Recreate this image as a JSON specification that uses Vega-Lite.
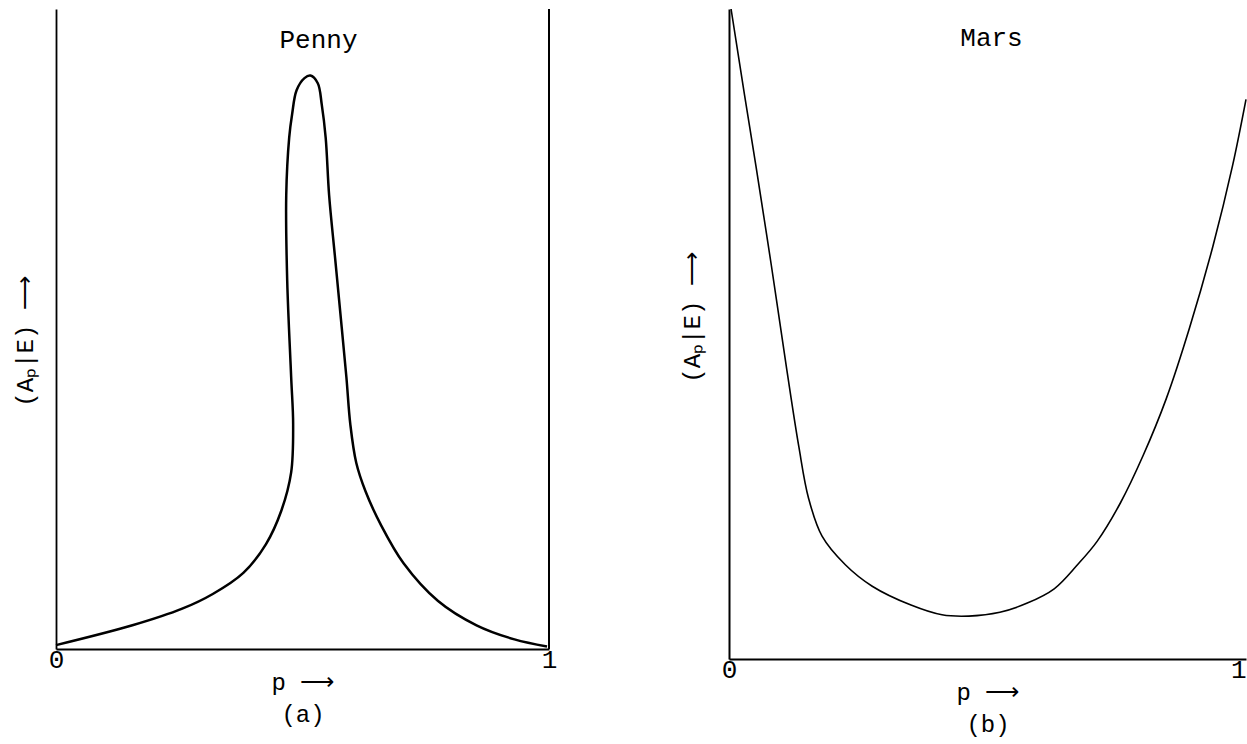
{
  "$schema": "https://vega.github.io/schema/vega-lite/v6.json",
  "background": "white",
  "padding": {"left": 13, "top": 5, "right": 0, "bottom": 6},
  "spacing": 123,
  "config": {
    "view": {"stroke": null},
    "font": "Liberation Mono",
    "axis": {"grid": false, "ticks": false, "domainColor": "black", "labelColor": "black", "titleColor": "black", "labelFont": "Liberation Mono", "titleFont": "Liberation Mono", "labelFontSize": 26, "titleFontSize": 24, "titleFontWeight": "normal"},
    "title": {"font": "Liberation Mono", "fontSize": 26, "fontWeight": "normal", "color": "black"}
  },
  "datasets": {
    "penny": [
      {"i": 0, "p": 0.0, "v": 0.006},
      {"i": 1, "p": 0.155, "v": 0.037},
      {"i": 2, "p": 0.256, "v": 0.063},
      {"i": 3, "p": 0.318, "v": 0.086},
      {"i": 4, "p": 0.38, "v": 0.119},
      {"i": 5, "p": 0.426, "v": 0.164},
      {"i": 6, "p": 0.457, "v": 0.216},
      {"i": 7, "p": 0.477, "v": 0.276},
      {"i": 8, "p": 0.481, "v": 0.351},
      {"i": 9, "p": 0.477, "v": 0.425},
      {"i": 10, "p": 0.469, "v": 0.575},
      {"i": 11, "p": 0.467, "v": 0.709},
      {"i": 12, "p": 0.473, "v": 0.799},
      {"i": 13, "p": 0.479, "v": 0.836},
      {"i": 14, "p": 0.488, "v": 0.873},
      {"i": 15, "p": 0.504, "v": 0.892},
      {"i": 16, "p": 0.516, "v": 0.896},
      {"i": 17, "p": 0.531, "v": 0.884},
      {"i": 18, "p": 0.539, "v": 0.851},
      {"i": 19, "p": 0.547, "v": 0.799},
      {"i": 20, "p": 0.554, "v": 0.709},
      {"i": 21, "p": 0.566, "v": 0.612},
      {"i": 22, "p": 0.578, "v": 0.515},
      {"i": 23, "p": 0.589, "v": 0.425},
      {"i": 24, "p": 0.597, "v": 0.351},
      {"i": 25, "p": 0.609, "v": 0.291},
      {"i": 26, "p": 0.628, "v": 0.246},
      {"i": 27, "p": 0.659, "v": 0.194},
      {"i": 28, "p": 0.705, "v": 0.134},
      {"i": 29, "p": 0.775, "v": 0.075},
      {"i": 30, "p": 0.853, "v": 0.037},
      {"i": 31, "p": 0.93, "v": 0.015},
      {"i": 32, "p": 0.996, "v": 0.004}
    ],
    "mars": [
      {"p": 0.004, "v": 1.0},
      {"p": 0.03, "v": 0.868},
      {"p": 0.052, "v": 0.759},
      {"p": 0.082, "v": 0.605},
      {"p": 0.112, "v": 0.444},
      {"p": 0.135, "v": 0.327},
      {"p": 0.154, "v": 0.247},
      {"p": 0.18, "v": 0.189},
      {"p": 0.225, "v": 0.145},
      {"p": 0.277, "v": 0.112},
      {"p": 0.352, "v": 0.083},
      {"p": 0.412, "v": 0.068},
      {"p": 0.464, "v": 0.066},
      {"p": 0.524, "v": 0.072},
      {"p": 0.577, "v": 0.086},
      {"p": 0.629, "v": 0.108},
      {"p": 0.674, "v": 0.145},
      {"p": 0.712, "v": 0.181},
      {"p": 0.757, "v": 0.24},
      {"p": 0.801, "v": 0.313},
      {"p": 0.846, "v": 0.401},
      {"p": 0.891, "v": 0.51},
      {"p": 0.936, "v": 0.635},
      {"p": 0.974, "v": 0.759},
      {"p": 1.0, "v": 0.861}
    ]
  },
  "hconcat": [
    {
      "width": 493,
      "height": 640,
      "title": {"text": "Penny", "offset": -37, "baseline": "alphabetic", "dx": 16, "dy": 29},
      "layer": [
        {
          "data": {"name": "penny"},
          "mark": {"type": "line", "color": "black", "strokeWidth": 2.5, "interpolate": "catmull-rom"},
          "encoding": {
            "x": {"field": "p", "type": "quantitative", "scale": {"domain": [0, 1], "nice": false, "zero": false},
              "axis": {"values": [0, 1], "format": "d", "labelFlush": false, "title": ["p ⟶", "(a)"], "titleLineHeight": 32, "titleY": 40, "titleBaseline": "alphabetic", "domainWidth": 2, "labelPadding": -3}},
            "y": {"field": "v", "type": "quantitative", "scale": {"domain": [0, 1], "nice": false},
              "axis": {"labels": false, "title": "(Aₚ|E) ⟶", "titleX": -24, "titleY": 332, "titleAngle": -90, "titleBaseline": "alphabetic", "domainWidth": 1.8}},
            "order": {"field": "i", "type": "quantitative"}
          }
        },
        {
          "data": {"values": [{"p": 1}]},
          "mark": {"type": "rule", "color": "black", "strokeWidth": 2},
          "encoding": {"x": {"field": "p", "type": "quantitative"}}
        }
      ]
    },
    {
      "width": 517,
      "height": 650,
      "title": {"text": "Mars", "offset": -37, "baseline": "alphabetic", "dx": 4, "dy": 29},
      "data": {"name": "mars"},
      "mark": {"type": "line", "color": "black", "strokeWidth": 1.6, "interpolate": "catmull-rom"},
      "encoding": {
        "x": {"field": "p", "type": "quantitative", "scale": {"domain": [0, 1], "nice": false, "zero": false},
          "axis": {"values": [0, 1], "format": "d", "labelFlush": false, "title": ["p ⟶", "(b)"], "titleLineHeight": 32, "titleY": 40, "titleBaseline": "alphabetic", "domainWidth": 2, "labelPadding": -3,
            "labelAlign": {"condition": {"test": "datum.value === 1", "value": "right"}, "value": "center"}}},
        "y": {"field": "v", "type": "quantitative", "scale": {"domain": [0, 1], "nice": false},
          "axis": {"labels": false, "title": "(Aₚ|E) ⟶", "titleX": -30, "titleY": 308, "titleAngle": -90, "titleBaseline": "alphabetic", "domainWidth": 2}}
      }
    }
  ]
}
